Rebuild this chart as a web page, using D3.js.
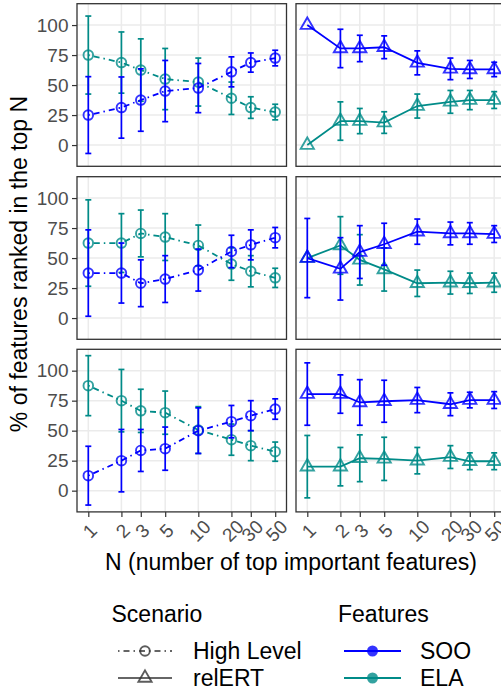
<!DOCTYPE html>
<html>
<head>
<meta charset="utf-8">
<script src="https://cdn.jsdelivr.net/npm/d3@7"></script>
<style>
  body { margin: 0; background: #fff; }
  svg { display: block; font-family: "Liberation Sans", Arial, sans-serif; }
</style>
</head>
<body>
<script>
// x values (log scale) and y ticks
const nVals = [1, 2, 3, 5, 10, 20, 30, 50];
const yTicks = [0, 25, 50, 75, 100];
const scenarioNames = ["High Level", "relERT"];
const featureNames = ["SOO", "ELA"];
const featureColors = ["#0000ff", "#008b88"];

// row 1 - High Level
const r1HighSOO = [25, 31.25, 37.5, 45, 47.5, 61, 68.75, 72.5];
const r1HighSOOErr = [32, 25.5, 26, 25.5, 20.5, 12.5, 8, 6.5];
const r1HighELA = [75, 68.75, 62.5, 55, 52.5, 39, 31.25, 27.5];
const r1HighELAErr = [32.5, 25.5, 26, 25.5, 20, 13.5, 9, 6.5];
// row 1 - relERT
const r1RelSOO = [100, 80.5, 80.5, 81.5, 68.5, 63.5, 63, 63];
const r1RelSOOErr = [0, 16, 11, 9.5, 10, 9, 7.5, 6];
const r1RelELA = [0, 20, 20, 18.75, 32.5, 36, 37.5, 37.5];
const r1RelELAErr = [0, 16, 10.5, 9, 10, 9.5, 8, 7];

// row 2 - High Level
const r2HighSOO = [37.5, 37.5, 29, 32.5, 40, 55.5, 61, 67];
const r2HighSOOErr = [36, 25, 19.5, 19.5, 17.5, 13.5, 12.5, 8.5];
const r2HighELA = [62.5, 62.5, 70.5, 67.5, 60.5, 45, 39, 33.5];
const r2HighELAErr = [36, 24.5, 19.5, 19.5, 17, 13.5, 13, 8];
// row 2 - relERT
const r2RelSOO = [50, 41, 55, 61.5, 72, 70.5, 70.5, 70];
const r2RelSOOErr = [33, 26, 22, 17.5, 10.5, 9.5, 9, 7];
const r2RelELA = [50, 60.5, 48.5, 40.5, 29, 29.5, 29, 29.5];
const r2RelELAErr = [0, 24, 21, 18, 11, 9.5, 8.5, 8];

// row 3 - High Level
const r3HighSOO = [12.5, 25, 33.5, 35, 50, 57.5, 62.5, 68];
const r3HighSOOErr = [24.5, 26, 17.5, 18, 19, 13.5, 12.5, 8.5];
const r3HighELA = [87.5, 75, 66.5, 65, 50.5, 42.5, 37.5, 32.5];
const r3HighELAErr = [25, 26, 18, 18, 19.5, 13, 12.5, 8];
// row 3 - relERT
const r3RelSOO = [80.5, 80.5, 73.5, 74.5, 75.5, 72, 75.5, 75.5];
const r3RelSOOErr = [26, 16, 19, 17.5, 10.5, 9.5, 6.5, 7];
const r3RelELA = [20, 20, 27, 26.5, 25, 28, 24.5, 24.5];
const r3RelELAErr = [26, 16, 19.5, 18, 11, 9.5, 7, 7];

// panels: [row][col] -> {SOO, ELA}
const panelData = [
  [{SOO: [r1HighSOO, r1HighSOOErr], ELA: [r1HighELA, r1HighELAErr]},
   {SOO: [r1RelSOO, r1RelSOOErr], ELA: [r1RelELA, r1RelELAErr]}],
  [{SOO: [r2HighSOO, r2HighSOOErr], ELA: [r2HighELA, r2HighELAErr]},
   {SOO: [r2RelSOO, r2RelSOOErr], ELA: [r2RelELA, r2RelELAErr]}],
  [{SOO: [r3HighSOO, r3HighSOOErr], ELA: [r3HighELA, r3HighELAErr]},
   {SOO: [r3RelSOO, r3RelSOOErr], ELA: [r3RelELA, r3RelELAErr]}]
];

const W = 501, H = 696;
const panelX = [77, 296], panelW = 209.5;
const panelY = [3.7, 176.7, 349.3], panelH = 162.6;
const xPad = 11.3;
const tickGray = "#4d4d4d";
const tickFont = "19px", titleFont = "23px";

const svg = d3.select("body").append("svg")
  .attr("width", W).attr("height", H);

const color = d3.scaleOrdinal(featureNames, featureColors);

function circleSym(g, x, y, c) {
  g.append("circle").attr("cx", x).attr("cy", y).attr("r", 4.8)
    .attr("fill", "none").attr("stroke", c).attr("stroke-width", 1.9)
    .attr("opacity", 0.8);
}
function triSym(g, x, y, c) {
  const R = 4.9;
  const top = 1.555 * R, base = 0.7776 * R, hw = 1.3468 * R;
  g.append("path")
    .attr("d", `M${x},${y - top}L${x + hw},${y + base}L${x - hw},${y + base}Z`)
    .attr("fill", "none").attr("stroke", c).attr("stroke-width", 1.9)
    .attr("stroke-linejoin", "miter").attr("opacity", 0.8);
}

for (let r = 0; r < 3; r++) {
  for (let c = 0; c < 2; c++) {
    const x0 = panelX[c], y0 = panelY[r];
    const x = d3.scaleLog().domain([1, 50]).range([x0 + xPad, x0 + panelW - xPad]);
    const y = d3.scaleLinear().domain([-17.7, 117.8]).range([y0 + panelH, y0]);
    const g = svg.append("g");

    // grid
    g.selectAll(".gy").data(yTicks).join("line")
      .attr("x1", x0).attr("x2", x0 + panelW)
      .attr("y1", d => y(d)).attr("y2", d => y(d))
      .attr("stroke", "#ebebeb").attr("stroke-width", 1.5);
    g.selectAll(".gx").data(nVals).join("line")
      .attr("x1", d => x(d)).attr("x2", d => x(d))
      .attr("y1", y0).attr("y2", y0 + panelH)
      .attr("stroke", "#ebebeb").attr("stroke-width", 1.5);

    // ELA first, SOO on top
    ["ELA", "SOO"].forEach(f => {
      const [mean, err] = panelData[r][c][f];
      const col = color(f);
      const pts = nVals.map((n, i) => ({n: n, m: mean[i], e: err[i]}));
      const line = d3.line().x(d => x(d.n)).y(d => y(d.m));
      g.append("path").datum(pts)
        .attr("d", line).attr("fill", "none")
        .attr("stroke", col).attr("stroke-width", 1.8)
        .attr("stroke-dasharray", c === 0 ? "1.5,4,6,4" : null);
      const eb = g.append("g");
      pts.filter(d => d.e > 0).forEach(d => {
        const px = x(d.n);
        eb.append("line").attr("x1", px).attr("x2", px)
          .attr("y1", y(d.m + d.e)).attr("y2", y(d.m - d.e));
        eb.append("line").attr("x1", px - 3).attr("x2", px + 3)
          .attr("y1", y(d.m + d.e)).attr("y2", y(d.m + d.e));
        eb.append("line").attr("x1", px - 3).attr("x2", px + 3)
          .attr("y1", y(d.m - d.e)).attr("y2", y(d.m - d.e));
      });
      eb.selectAll("line").attr("stroke", col).attr("stroke-width", 1.7);
      pts.forEach(d => {
        if (c === 0) circleSym(g, x(d.n), y(d.m), col);
        else triSym(g, x(d.n), y(d.m), col);
      });
    });

    // border
    g.append("rect").attr("x", x0).attr("y", y0)
      .attr("width", panelW).attr("height", panelH)
      .attr("fill", "none").attr("stroke", "#333333").attr("stroke-width", 1.3);

    // y axis on left column
    if (c === 0) {
      const ya = svg.append("g").attr("transform", `translate(${x0},0)`)
        .call(d3.axisLeft(y).tickValues(yTicks).tickSize(5).tickPadding(3.5));
      ya.select(".domain").remove();
      ya.selectAll(".tick line").attr("stroke", "#333333").attr("stroke-width", 1.2);
      ya.selectAll(".tick text").attr("fill", tickGray)
        .style("font-size", tickFont).style("font-family", "Liberation Sans, Arial, sans-serif");
    }
    // x axis on bottom row
    if (r === 2) {
      const xa = svg.append("g").attr("transform", `translate(0,${y0 + panelH})`)
        .call(d3.axisBottom(x).tickValues(nVals).tickFormat(d3.format("d")).tickSize(5));
      xa.select(".domain").remove();
      xa.selectAll(".tick line").attr("stroke", "#333333").attr("stroke-width", 1.2);
      xa.selectAll(".tick text")
        .attr("y", 0).attr("dy", null)
        .attr("transform", "translate(1,19) rotate(-45)")
        .attr("text-anchor", "middle")
        .attr("dominant-baseline", "central")
        .attr("fill", tickGray)
        .style("font-size", tickFont).style("font-family", "Liberation Sans, Arial, sans-serif");
    }
  }
}

// axis titles
svg.append("text")
  .attr("x", 291).attr("y", 570)
  .attr("text-anchor", "middle")
  .style("font-size", titleFont)
  .text("N (number of top important features)");
svg.append("text")
  .attr("transform", "translate(27,264) rotate(-90)")
  .attr("text-anchor", "middle")
  .style("font-size", titleFont)
  .text("% of features ranked in the top N");

// legends
const leg = svg.append("g");
leg.append("text").attr("x", 111.5).attr("y", 622).style("font-size", titleFont).text("Scenario");
leg.append("text").attr("x", 338).attr("y", 622).style("font-size", titleFont).text("Features");

const legRowY = [651, 678];
scenarioNames.forEach((s, i) => {
  const yy = legRowY[i];
  leg.append("line").attr("x1", 118).attr("x2", 172).attr("y1", yy).attr("y2", yy)
    .attr("stroke", "#333333").attr("stroke-width", 1.6)
    .attr("stroke-dasharray", i === 0 ? "1.5,4,6,4" : null);
  if (i === 0) circleSym(leg, 145, yy, "#333333");
  else triSym(leg, 145, yy, "#333333");
  leg.append("text").attr("x", 193).attr("y", yy + 8).style("font-size", titleFont).text(s);
});
featureNames.forEach((f, i) => {
  const yy = legRowY[i];
  leg.append("line").attr("x1", 344).attr("x2", 401).attr("y1", yy).attr("y2", yy)
    .attr("stroke", color(f)).attr("stroke-width", 1.8);
  leg.append("circle").attr("cx", 372.5).attr("cy", yy).attr("r", 5.5)
    .attr("fill", color(f)).attr("opacity", 0.8);
  leg.append("text").attr("x", 420).attr("y", yy + 8).style("font-size", titleFont).text(f);
});
</script>
</body>
</html>
